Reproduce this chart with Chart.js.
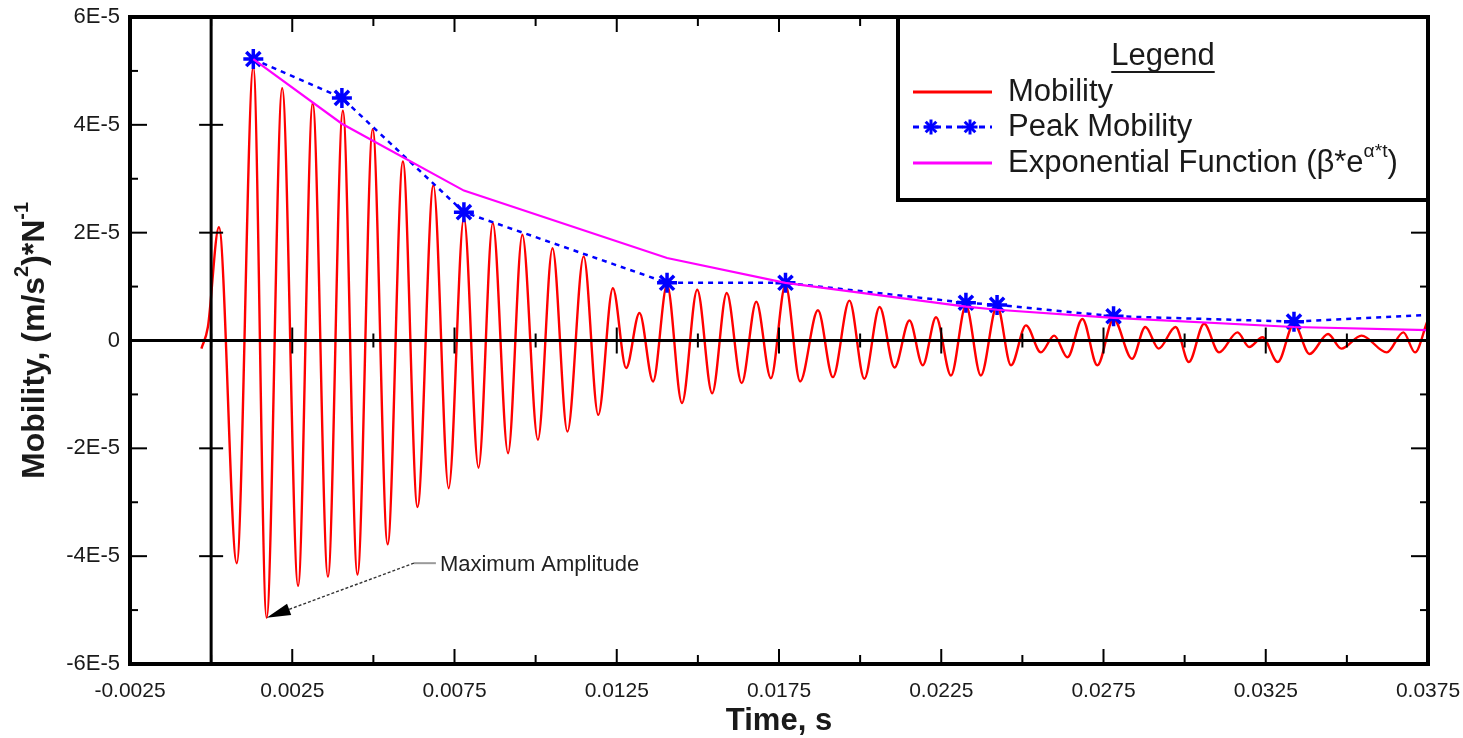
<!DOCTYPE html>
<html>
<head>
<style>
    body { margin: 0; background: #fff; }
</style>
</head>
<body>
    <canvas id="myChart" width="1463" height="738"></canvas>
    <script src="https://cdn.jsdelivr.net/npm/chart.js"></script>

    <script>
        const mobilityTime = [-0.0003, -0.0001, 0.00024, 0.00079, 0.0013, 0.00171, 0.00219, 0.00268, 0.00313, 0.0036,
            0.00406, 0.00451, 0.00498, 0.00544, 0.00591, 0.00636, 0.00685, 0.00732, 0.00779, 0.00824,
            0.00868, 0.00915, 0.00959, 0.01007, 0.01052, 0.01098, 0.01148, 0.01193, 0.01238, 0.01279,
            0.0132, 0.01362, 0.01405, 0.01451, 0.01498, 0.01544, 0.01589, 0.01635, 0.0168, 0.01725,
            0.0177, 0.01815, 0.0187, 0.01916, 0.01967, 0.02013, 0.0206, 0.02106, 0.02152, 0.02193,
            0.02234, 0.0228, 0.02326, 0.02372, 0.02422, 0.02465, 0.02511, 0.02557, 0.02598, 0.02639,
            0.02685, 0.02731, 0.02781, 0.02838, 0.02879, 0.0292, 0.02972, 0.03013, 0.0306, 0.03106,
            0.03163, 0.03199, 0.0324, 0.03287, 0.03337, 0.03385, 0.03442, 0.03483, 0.03545, 0.03623,
            0.03674, 0.0371, 0.03747]
        const mobilityValue = [-0.15, 0.25, 2.1, -4.13, 5.07, -5.14, 4.68, -4.55, 4.4, -4.38,
            4.26, -4.34, 3.92, -3.78, 3.32, -3.09, 2.88, -2.74, 2.28, -2.36,
            2.18, -2.09, 1.96, -1.84, 1.71, -1.69, 1.56, -1.38, 0.97, -0.51,
            0.51, -0.76, 1.03, -1.16, 0.94, -0.98, 0.88, -0.79, 0.72, -0.7,
            1.03, -0.76, 0.56, -0.68, 0.74, -0.71, 0.62, -0.5, 0.37, -0.46,
            0.43, -0.65, 0.65, -0.65, 0.65, -0.46, 0.28, -0.22, 0.09, -0.31,
            0.4, -0.46, 0.4, -0.34, 0.25, -0.15, 0.25, -0.4, 0.31, -0.22,
            0.15, -0.12, 0.06, -0.4, 0.31, -0.25, 0.12, -0.15, 0.09, -0.22,
            0.15, -0.22, 0.34]

        const peakTime = [0.0013, 0.00403, 0.00779, 0.01405, 0.0177, 0.02326, 0.02422, 0.02781, 0.03337, 0.039]
        const peakValue = [5.22, 4.5, 2.38, 1.07, 1.07, 0.7, 0.66, 0.45, 0.35, 0.52]

        const expTime = [0.0013, 0.00403, 0.00779, 0.01405, 0.0177, 0.02326, 0.02422, 0.02781, 0.03337, 0.039]
        const expValue = [5.22, 4.02, 2.78, 1.53, 1.07, 0.63, 0.57, 0.42, 0.25, 0.17]

        const E5 = 1e-5
        const timeStep = 0.0025
        const timeMin = -0.0025
        const timeMax = 0.0375
        const mobMin = -6
        const mobMax = 6

        const annotationText = 'Maximum Amplitude'
        const annotationTextAt = { x: 0.00705, y: -4.17 }
        const annotationElbow = { x: 0.00625, y: -4.13 }
        const annotationTipIndex = 5 // the deepest trough

        const FONT = '"Liberation Sans", Arial, sans-serif'
        const TEXT = '#1a1a1a'

        const toPoints = (xs, ys) => xs.map((t, i) => ({ x: t, y: ys[i] * E5 }))

        function line(ctx, x1, y1, x2, y2) {
            ctx.beginPath()
            ctx.moveTo(x1, y1)
            ctx.lineTo(x2, y2)
            ctx.stroke()
        }

        function star(ctx, x, y, r) {
            for (let i = 0; i < 4; i++) {
                const a = i * Math.PI / 4
                line(ctx, x - r * Math.cos(a), y - r * Math.sin(a), x + r * Math.cos(a), y + r * Math.sin(a))
            }
        }

        // text with superscript parts: [[text, isSup], ...]
        function richText(ctx, parts, x, y, size, bold, align) {
            const f = (s) => (bold ? 'bold ' : '') + s + 'px ' + FONT
            let w = 0
            parts.forEach(p => {
                ctx.font = f(p[1] ? size * 0.62 : size)
                w += ctx.measureText(p[0]).width
            })
            let cx = align === 'center' ? x - w / 2 : x
            ctx.textAlign = 'left'
            ctx.textBaseline = 'middle'
            parts.forEach(p => {
                ctx.font = f(p[1] ? size * 0.62 : size)
                ctx.fillText(p[0], cx, p[1] ? y - size * 0.38 : y)
                cx += ctx.measureText(p[0]).width
            })
        }

        const axesPlugin = {
            id: 'axesFrame',
            afterDatasetsDraw(chart) {
                const { ctx, chartArea: a, scales: { x, y } } = chart
                const y0 = y.getPixelForValue(0)
                const x0 = x.getPixelForValue(0)
                ctx.save()
                ctx.strokeStyle = '#000'
                ctx.lineCap = 'butt'

                ctx.lineWidth = 3
                line(ctx, a.left, y0, a.right, y0)
                line(ctx, x0, a.top, x0, a.bottom)

                ctx.lineWidth = 2
                x.ticks.forEach(t => {
                    const px = x.getPixelForValue(t.value)
                    if (px <= a.left + 2 || px >= a.right - 2) return
                    const major = Math.round(t.value / timeStep) % 2 !== 0
                    const len = major ? 15 : 9
                    line(ctx, px, a.bottom, px, a.bottom - len)
                    line(ctx, px, a.top, px, a.top + len)
                    const c = major ? 13 : 7
                    line(ctx, px, y0 - c, px, y0 + c)
                })
                y.ticks.forEach(t => {
                    const py = y.getPixelForValue(t.value)
                    if (py <= a.top + 2 || py >= a.bottom - 2) return
                    const k = Math.round(t.value / E5)
                    const major = k % 2 === 0
                    const len = major ? 17 : 8
                    line(ctx, a.left, py, a.left + len, py)
                    line(ctx, a.right, py, a.right - len, py)
                    if (major && k !== 0) line(ctx, x0 - 12, py, x0 + 12, py)
                })

                ctx.lineWidth = 4
                ctx.strokeRect(a.left, a.top, a.right - a.left, a.bottom - a.top)

                // annotation
                const tipX = x.getPixelForValue(mobilityTime[annotationTipIndex])
                const tipY = y.getPixelForValue(mobilityValue[annotationTipIndex] * E5)
                const ex = x.getPixelForValue(annotationElbow.x)
                const ey = y.getPixelForValue(annotationElbow.y * E5)
                const tx = x.getPixelForValue(annotationTextAt.x)
                const ty = y.getPixelForValue(annotationTextAt.y * E5)
                ctx.strokeStyle = '#9a9a9a'
                ctx.lineWidth = 2
                line(ctx, ex, ey, tx - 4, ey)
                const ang = Math.atan2(tipY - ey, tipX - ex)
                const headLen = 24, headW = 6
                const bx = tipX - headLen * Math.cos(ang), by = tipY - headLen * Math.sin(ang)
                ctx.strokeStyle = '#333'
                ctx.lineWidth = 1.4
                ctx.setLineDash([3, 2])
                line(ctx, ex, ey, bx, by)
                ctx.setLineDash([])
                ctx.fillStyle = '#000'
                ctx.beginPath()
                ctx.moveTo(tipX, tipY)
                ctx.lineTo(bx + headW * Math.sin(ang), by - headW * Math.cos(ang))
                ctx.lineTo(bx - headW * Math.sin(ang), by + headW * Math.cos(ang))
                ctx.closePath()
                ctx.fill()
                ctx.fillStyle = '#222'
                ctx.font = '22px ' + FONT
                ctx.textAlign = 'left'
                ctx.textBaseline = 'middle'
                ctx.fillText(annotationText, tx, ty)

                ctx.restore()
            },
            afterDraw(chart) {
                const { ctx, chartArea: a } = chart
                ctx.save()
                ctx.fillStyle = TEXT

                // axis titles
                richText(ctx, [['Time, s', false]], (a.left + a.right) / 2, 721, 31, true, 'center')
                ctx.save()
                ctx.translate(35, (a.top + a.bottom) / 2)
                ctx.rotate(-Math.PI / 2)
                richText(ctx, [['Mobility, (m/s', false], ['2', true], [')*N', false], ['-1', true]], 0, 0, 32, true, 'center')
                ctx.restore()

                // legend box
                const lx = 898, ly = a.top, lr = a.right, lb = 200
                ctx.fillStyle = '#fff'
                ctx.fillRect(lx, ly, lr - lx, lb - ly)
                ctx.strokeStyle = '#000'
                ctx.lineWidth = 4
                ctx.strokeRect(lx, ly, lr - lx, lb - ly)

                ctx.fillStyle = TEXT
                ctx.font = '31px ' + FONT
                ctx.textAlign = 'center'
                ctx.textBaseline = 'middle'
                const cx = (lx + lr) / 2
                ctx.fillText('Legend', cx, 56)
                const tw = ctx.measureText('Legend').width
                ctx.strokeStyle = TEXT
                ctx.lineWidth = 2
                line(ctx, cx - tw / 2, 72, cx + tw / 2, 72)

                const ds = chart.data.datasets
                const rows = [92, 127, 163]
                const s1 = 913, s2 = 992
                ctx.lineWidth = 3
                ctx.strokeStyle = ds[0].borderColor
                line(ctx, s1, rows[0], s2, rows[0])
                ctx.strokeStyle = ds[1].borderColor
                ctx.setLineDash([6, 5])
                line(ctx, s1, rows[1], s2, rows[1])
                ctx.setLineDash([])
                ctx.lineWidth = 3
                star(ctx, 931, rows[1], 7.5)
                star(ctx, 970, rows[1], 7.5)
                ctx.lineWidth = 3
                ctx.strokeStyle = ds[2].borderColor
                line(ctx, s1, rows[2], s2, rows[2])

                ctx.fillStyle = TEXT
                richText(ctx, [[ds[0].label, false]], 1008, rows[0], 31, false, 'left')
                richText(ctx, [[ds[1].label, false]], 1008, rows[1], 31, false, 'left')
                richText(ctx, [['Exponential Function (\u03b2*e', false], ['\u03b1*t', true], [')', false]], 1008, rows[2], 31, false, 'left')
                ctx.restore()
            }
        }

        const canvas = document.getElementById('myChart').getContext('2d')
        const chart = new Chart(canvas, {
            type: 'line',
            data: {
                datasets: [
                    {
                        label: 'Mobility',
                        data: toPoints(mobilityTime, mobilityValue),
                        borderColor: '#ff0000',
                        borderWidth: 2.4,
                        pointRadius: 0,
                        cubicInterpolationMode: 'monotone',
                        fill: false,
                        order: 3
                    },
                    {
                        label: 'Peak Mobility',
                        data: toPoints(peakTime, peakValue),
                        borderColor: '#0000ff',
                        backgroundColor: '#0000ff',
                        borderWidth: 2.5,
                        borderDash: [5, 5],
                        pointStyle: 'star',
                        pointRadius: 10,
                        pointBorderWidth: 3.5,
                        pointBorderColor: '#0000ff',
                        fill: false,
                        order: 2
                    },
                    {
                        label: 'Exponential Function',
                        data: toPoints(expTime, expValue),
                        borderColor: '#ff00ff',
                        borderWidth: 2.2,
                        pointRadius: 0,
                        fill: false,
                        order: 1
                    }
                ]
            },
            options: {
                responsive: false,
                animation: false,
                layout: { padding: { top: 17, right: 35, left: 0, bottom: 0 } },
                plugins: { legend: { display: false }, tooltip: { enabled: false } },
                scales: {
                    x: {
                        type: 'linear',
                        min: timeMin,
                        max: timeMax,
                        grid: { display: false, drawTicks: false },
                        border: { display: false },
                        ticks: {
                            stepSize: timeStep,
                            autoSkip: false,
                            maxRotation: 0,
                            padding: 15,
                            color: TEXT,
                            font: { family: FONT, size: 21 },
                            callback: (v) => {
                                const k = Math.round(v / timeStep)
                                return k % 2 !== 0 ? (k * timeStep).toFixed(4) : ''
                            }
                        },
                        afterFit: (s) => { s.height = 74; s.paddingLeft = 0; s.paddingRight = 0 }
                    },
                    y: {
                        min: mobMin * E5,
                        max: mobMax * E5,
                        grid: { display: false, drawTicks: false },
                        border: { display: false },
                        ticks: {
                            stepSize: E5,
                            autoSkip: false,
                            padding: 10,
                            color: TEXT,
                            font: { family: FONT, size: 22 },
                            callback: (v) => {
                                const k = Math.round(v / E5)
                                if (k % 2 !== 0) return ''
                                return k === 0 ? '0' : k + 'E-5'
                            }
                        },
                        afterFit: (s) => { s.width = 130; s.paddingTop = 0; s.paddingBottom = 0 }
                    }
                }
            },
            plugins: [axesPlugin]
        })
        window.chart = chart
    </script>
</body>
</html>
